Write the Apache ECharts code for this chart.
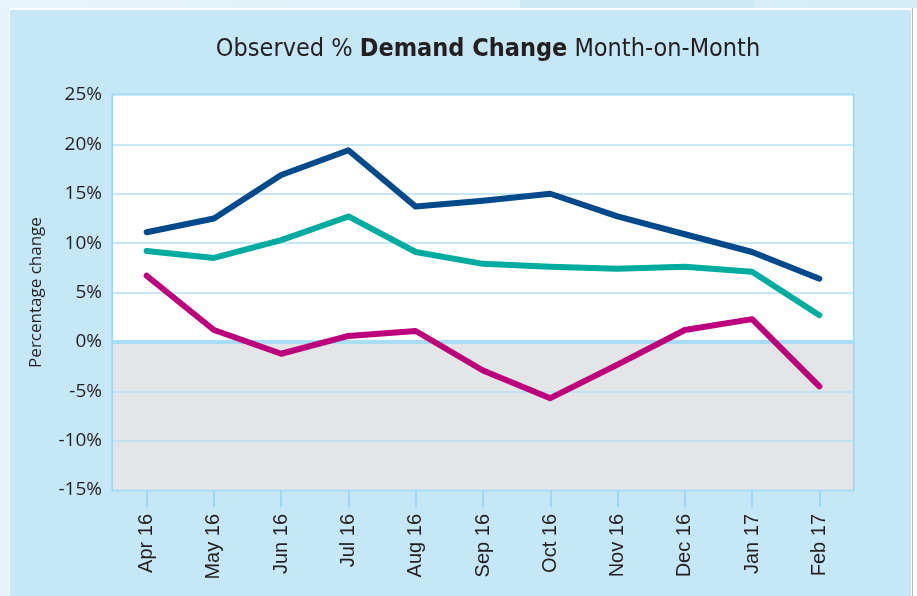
<!DOCTYPE html>
<html>
<head>
    <meta charset="utf-8">
    <title>Observed % Demand Change Month-on-Month</title>
    <style>
        html, body { margin: 0; padding: 0; background: #ffffff; }
    </style>
</head>
<body>
<div id="chart" style="width: 917px;height:596px;"></div>
<script src="https://cdn.jsdelivr.net/npm/echarts@6/dist/echarts.min.js"></script>

<script type="text/javascript">
    // month labels
    var months = ['Apr 16', 'May 16', 'Jun 16', 'Jul 16', 'Aug 16', 'Sep 16', 'Oct 16', 'Nov 16', 'Dec 16', 'Jan 17', 'Feb 17'];
    // values (%)
    var navySeries = [11.1, 12.5, 16.9, 19.4, 13.7, 14.3, 15.0, 12.7, 10.9, 9.1, 6.4];
    var tealSeries = [9.2, 8.5, 10.3, 12.7, 9.1, 7.9, 7.6, 7.4, 7.6, 7.1, 2.7];
    var magentaSeries = [6.7, 1.2, -1.2, 0.6, 1.1, -2.9, -5.7, -2.3, 1.2, 2.3, -4.5];
    var yTicks = [-15, -10, -5, 0, 5, 10, 15, 20, 25];

    var dom = document.getElementById('chart');
    var myChart = echarts.init(dom);

    function lineSeries(data, color) {
        return {
            type: 'line',
            data: data,
            symbol: 'none',
            lineStyle: { color: color, width: 6, cap: 'round', join: 'round' },
            itemStyle: { color: color },
            z: 5
        };
    }

    var series = [
        lineSeries(navySeries, '#004a8c'),
        lineSeries(tealSeries, '#00ab9f'),
        lineSeries(magentaSeries, '#bc007b')
    ];
    // thick zero line
    series[0].markLine = {
        silent: true,
        symbol: 'none',
        label: { show: false },
        lineStyle: { color: '#a9dcf5', width: 4, type: 'solid' },
        data: [{ yAxis: 0 }],
        z: 3
    };

    var titleFont = '"DejaVu Sans Condensed", "Liberation Sans Narrow", sans-serif';

    var option = {
        backgroundColor: '#ffffff',
        animation: false,
        graphic: [
            { type: 'rect', z: -10, shape: { x: 0, y: 0, width: 917, height: 8 },
              style: { fill: new echarts.graphic.LinearGradient(0, 0, 1, 0, [
                  { offset: 0, color: '#e8f5fb' }, { offset: 1, color: '#d4edf8' }]) } },
            { type: 'rect', z: -10, shape: { x: 520, y: 0, width: 235, height: 8 },
              style: { fill: '#cde9f6' } },
            { type: 'rect', z: -10, shape: { x: 0, y: 8, width: 9, height: 588 },
              style: { fill: '#e4f3fa' } },
            { type: 'rect', z: -9, shape: { x: 10, y: 10, width: 901, height: 586 },
              style: { fill: '#c6e7f8' } },
            { type: 'rect', z: -9, shape: { x: 912, y: 8, width: 1, height: 588 },
              style: { fill: '#b8b8b8' } }
        ],
        title: {
            text: '{n|Observed % }{b|Demand Change}{n| Month-on-Month}',
            left: 483,
            top: 32,
            textAlign: 'center',
            textStyle: {
                fontWeight: 'normal',
                rich: {
                    n: { fontFamily: titleFont, fontSize: 25, fontWeight: 'normal', color: '#231f20' },
                    b: { fontFamily: titleFont, fontSize: 25, fontWeight: 'bold', color: '#231f20' }
                }
            }
        },
        grid: {
            left: 113,
            right: 64,
            top: 95,
            bottom: 106,
            show: true,
            backgroundColor: '#ffffff',
            borderColor: '#9dd7f4',
            borderWidth: 3
        },
        xAxis: {
            type: 'category',
            data: months,
            boundaryGap: true,
            axisLine: { show: false, onZero: false },
            axisTick: { show: true, alignWithLabel: true, length: 17, lineStyle: { color: '#9dd7f4', width: 2 } },
            axisLabel: {
                rotate: 90,
                margin: 24,
                fontFamily: '"Liberation Sans", Arial, sans-serif',
                fontSize: 20,
                color: '#231f20'
            }
        },
        yAxis: {
            type: 'value',
            min: yTicks[0],
            max: yTicks[yTicks.length - 1],
            interval: 5,
            name: 'Percentage change',
            nameLocation: 'middle',
            nameGap: 68,
            nameTextStyle: { fontFamily: '"Open Sans", sans-serif', fontSize: 17, color: '#231f20' },
            axisLine: { show: false },
            axisTick: { show: false },
            axisLabel: {
                formatter: '{value}%',
                margin: 11,
                fontFamily: '"Open Sans", sans-serif',
                fontSize: 19,
                color: '#231f20'
            },
            splitLine: { show: true, lineStyle: { color: '#b5e1f6', width: 1.5 } },
            splitArea: {
                show: true,
                areaStyle: { color: ['#e4e5e7', '#e4e5e7', '#e4e5e7', '#ffffff', '#ffffff', '#ffffff', '#ffffff', '#ffffff'] }
            }
        },
        series: series
    };

    if (option && typeof option === "object") {
        myChart.setOption(option);
    }
</script>
</body>
</html>
